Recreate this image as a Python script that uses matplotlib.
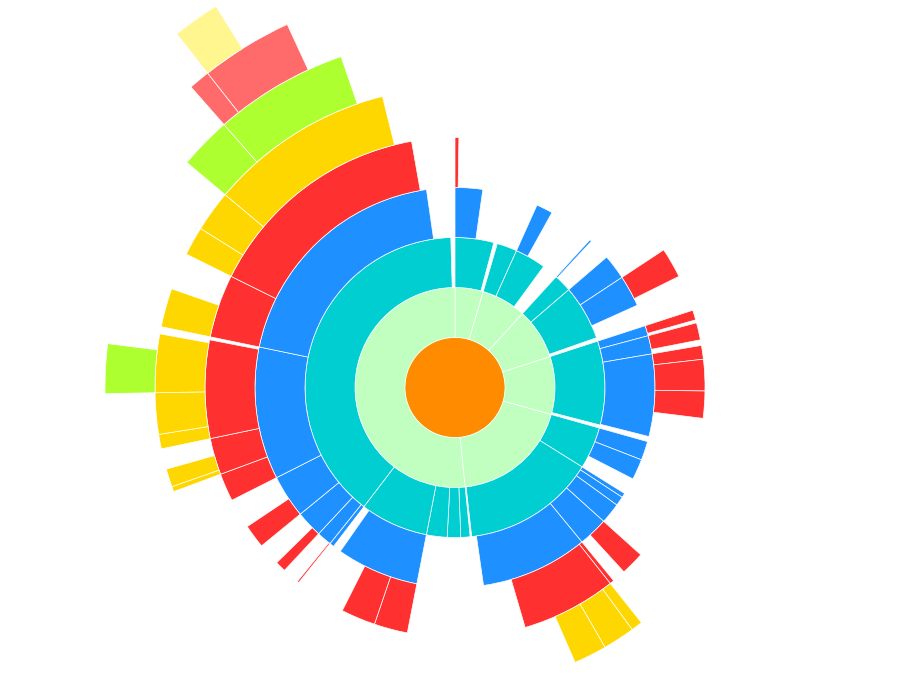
import numpy as np
import matplotlib
matplotlib.use("Agg")
import matplotlib.pyplot as plt

# Sunburst: one ring per depth, sizes are angular spans in degrees.
# Each child is placed after its previous sibling, starting at the parent's start.
root_value = 360.0

d1_parent = [0, 0, 0, 0, 0, 0]
d1_value = [16.4, 26.0, 29.6, 33.7, 68.5, 185.8]

d2_parent = [0, 1, 1, 2, 2, 3, 4, 4, 5, 5, 5, 5, 5]
d2_value = [15.0, 7.8, 12.0, 6.9, 21.3, 32.5, 16.3, 51.6, 3.6, 5.2, 8.0, 26.4, 141.0]

d3_parent = [0, 2, 3, 4, 4, 5, 5, 5, 6, 6, 7, 7, 7, 7, 7, 11, 12, 12, 12, 12, 12, 12]
d3_value = [8.0, 4.8, 0.6, 7.3, 9.1, 3.0, 5.3, 23.9, 5.5, 6.0, 1.3, 2.7, 6.0, 8.6, 31.2,
            24.0, 1.3, 4.3, 7.7, 12.5, 38.5, 70.1]

d4_parent = [0, 4, 5, 6, 7, 7, 7, 13, 14, 14, 15, 15, 17, 18, 19, 20, 20, 20, 21, 21]
d4_value = [0.9, 7.0, 2.3, 4.0, 3.2, 7.3, 6.3, 5.5, 1.0, 22.1, 7.8, 8.0, 0.4, 2.5, 5.5,
            6.5, 8.5, 22.8, 14.7, 53.6]

d5_parent = [9, 9, 9, 16, 16, 17, 17, 17, 18, 19, 19, 19]
d5_value = [2.2, 6.2, 6.4, 1.0, 3.5, 2.8, 8.0, 11.3, 7.5, 5.6, 8.0, 36.0]

d6_parent = [7, 11, 11]
d6_value = [8.2, 8.7, 22.3]

d7_parent = [2, 2]
d7_value = [3.1, 13.4]

d8_parent = [1]
d8_value = [6.1]

ring_colors = ["#FF8C00", "#C1FFC1", "#00CED1", "#1E90FF", "#FF3030",
               "#FFD700", "#ADFF2F", "#FF6A6A", "#FFF68F"]

levels = [(d1_parent, d1_value), (d2_parent, d2_value), (d3_parent, d3_value),
          (d4_parent, d4_value), (d5_parent, d5_value), (d6_parent, d6_value),
          (d7_parent, d7_value), (d8_parent, d8_value)]

# partition layout
starts = [[0.0]]
for parents, values in levels:
    next_free = {}
    level_starts = []
    for p, v in zip(parents, values):
        s = next_free.get(p, starts[-1][p])
        level_starts.append(s)
        next_free[p] = s + v
    starts.append(level_starts)

fig = plt.figure(figsize=(9.1, 6.93), dpi=100)
r_max = 9.5
size_px = 2 * r_max * 50
cx, cy = 455, 693 - 387.5
ax = fig.add_axes([(cx - size_px / 2) / 910, (cy - size_px / 2) / 693,
                   size_px / 910, size_px / 693], projection="polar")
ax.set_theta_zero_location("N")
ax.set_theta_direction(-1)
ax.set_ylim(0, r_max)

ax.bar(0, 1, width=np.radians(root_value), bottom=0, align="edge",
       color=ring_colors[0], edgecolor="none")

for depth, (parents, values) in enumerate(levels, start=1):
    ax.bar(np.radians(starts[depth]), 1, width=np.radians(values), bottom=depth,
           align="edge", color=ring_colors[depth], edgecolor="white", linewidth=0.5)

ax.set_axis_off()
fig.savefig("out.png", dpi=100)
